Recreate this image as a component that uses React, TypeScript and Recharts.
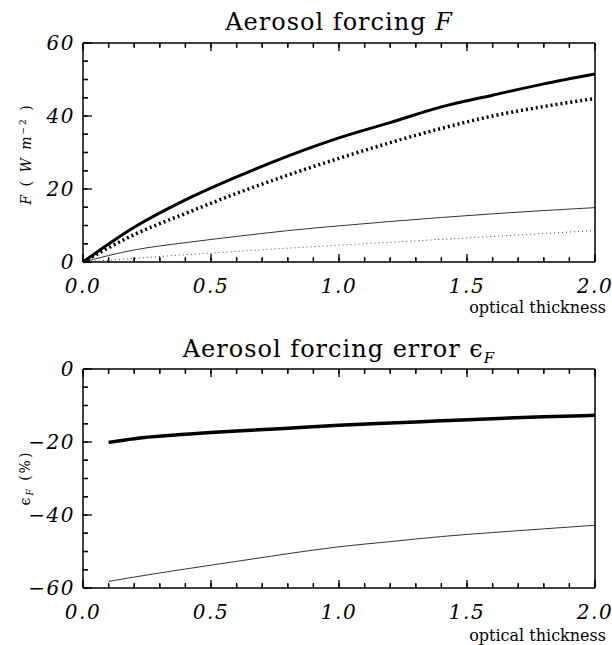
import { LineChart, Line, XAxis, YAxis } from 'recharts';

// optical thickness samples
const tau = [0, 0.2, 0.4, 0.6, 0.8, 1.0, 1.2, 1.4, 1.6, 1.8, 2.0];
const forcingThickSolid = [0, 9.5, 17.0, 23.3, 29.0, 34.0, 38.2, 42.5, 45.7, 48.8, 51.5];
const forcingThickDotted = [0, 7.5, 13.3, 18.8, 23.8, 28.4, 32.7, 36.6, 40.0, 42.6, 44.8];
const forcingThinSolid = [0, 3.3, 5.3, 7.0, 8.6, 9.9, 11.1, 12.2, 13.2, 14.1, 14.9];
const forcingThinDotted = [0, 1.0, 2.0, 2.9, 3.8, 4.6, 5.4, 6.2, 7.0, 7.8, 8.6];

const tauErr = [0.1, 0.2, 0.4, 0.6, 0.8, 1.0, 1.2, 1.4, 1.6, 1.8, 2.0];
const errThick = [-20.1, -19.1, -17.9, -17.0, -16.2, -15.4, -14.8, -14.2, -13.6, -13.1, -12.7];
const errThin = [-58.2, -57.0, -54.8, -52.7, -50.6, -48.7, -47.3, -45.9, -44.8, -43.8, -42.8];

const xTicks = [0, 0.1, 0.2, 0.3, 0.4, 0.5, 0.6, 0.7, 0.8, 0.9, 1.0, 1.1, 1.2, 1.3, 1.4, 1.5, 1.6, 1.7, 1.8, 1.9, 2.0];
const yTicksTop = [0, 5, 10, 15, 20, 25, 30, 35, 40, 45, 50, 55, 60];
const yTicksBottom = [-60, -55, -50, -45, -40, -35, -30, -25, -20, -15, -10, -5, 0];

const forcingData = tau.map((t, i) => ({
  tau: t,
  a: forcingThickSolid[i],
  b: forcingThickDotted[i],
  c: forcingThinSolid[i],
  d: forcingThinDotted[i],
}));

const errorData = tauErr.map((t, i) => ({ tau: t, a: errThick[i], c: errThin[i] }));

const frame = { stroke: '#000', strokeWidth: 1.5 };
const tickStroke = { stroke: '#000', strokeWidth: 1.3 };
const TS = -5; // inward tick length
const serif = 'DejaVu Serif';

const XTick = (props: any) => {
  const { x, y, payload, side } = props;
  const v = payload.value;
  const major = Math.abs(v * 2 - Math.round(v * 2)) < 1e-6;
  // tick position sits at the inner end of the native tick line
  const base = side === 'top' ? y + TS : y - TS;
  const dir = side === 'top' ? 1 : -1;
  return (
    <g>
      <line x1={x} y1={base} x2={x} y2={base + dir * (major ? 8 : 4)} stroke="#000" strokeWidth={1.3} />
      {side !== 'top' && major && (
        <text x={x} y={base + 31} textAnchor="middle" fill="#000" fontFamily={serif} fontStyle="italic" fontSize={20} letterSpacing={1.5}>
          {v.toFixed(1)}
        </text>
      )}
    </g>
  );
};

const YTick = (props: any) => {
  const { x, y, payload, side } = props;
  const v = payload.value;
  const major = v % 20 === 0;
  const base = side === 'right' ? x - TS : x + TS;
  const dir = side === 'right' ? -1 : 1;
  return (
    <g>
      <line x1={base} y1={y} x2={base + dir * (major ? 9 : 5)} y2={y} stroke="#000" strokeWidth={1.3} />
      {side !== 'right' && major && (
        <text x={base - 8} y={y + 7} textAnchor="end" fill="#000" fontFamily={serif} fontStyle="italic" fontSize={20} letterSpacing={1.5}>
          {v < 0 ? '\u2212' + Math.abs(v) : String(v)}
        </text>
      )}
    </g>
  );
};

const titleStyle: any = {
  position: 'absolute', left: 83, width: 512, textAlign: 'center',
  fontFamily: serif, fontSize: 24, lineHeight: '24px', letterSpacing: 1, whiteSpace: 'nowrap',
};
const xLabelStyle: any = {
  position: 'absolute', right: 6, fontFamily: serif, fontSize: 16, lineHeight: '16px', whiteSpace: 'nowrap',
};
const yLabelStyle: any = {
  position: 'absolute', left: 26, transform: 'translate(-50%, -50%) rotate(-90deg)',
  fontFamily: serif, fontSize: 14, letterSpacing: 2, whiteSpace: 'nowrap',
};

const App = () => {
  return (
    <div style={{ position: 'absolute', left: 0, top: 0 }}>
      <div style={{ position: 'relative', width: 612, height: 325 }}>
        <LineChart width={612} height={325} data={forcingData} margin={{ top: 42, right: 16, left: 82, bottom: 62 }}>
          <XAxis xAxisId="b" dataKey="tau" type="number" domain={[0, 2]} ticks={xTicks} interval={0}
            height={1} tickSize={TS} tickMargin={0} axisLine={frame} tickLine={tickStroke} tick={<XTick side="bottom" />} />
          <XAxis xAxisId="t" orientation="top" dataKey="tau" type="number" domain={[0, 2]} ticks={xTicks} interval={0}
            height={1} tickSize={TS} tickMargin={0} axisLine={frame} tickLine={tickStroke} tick={<XTick side="top" />} />
          <YAxis yAxisId="l" type="number" domain={[0, 60]} ticks={yTicksTop} interval={0}
            width={1} tickSize={TS} tickMargin={0} axisLine={frame} tickLine={tickStroke} tick={<YTick side="left" />} />
          <YAxis yAxisId="r" orientation="right" type="number" domain={[0, 60]} ticks={yTicksTop} interval={0}
            width={1} tickSize={TS} tickMargin={0} axisLine={frame} tickLine={tickStroke} tick={<YTick side="right" />} />
          <Line xAxisId="b" yAxisId="l" type="monotone" dataKey="d" stroke="#444" strokeWidth={1} strokeDasharray="1 3" dot={false} isAnimationActive={false} />
          <Line xAxisId="b" yAxisId="l" type="monotone" dataKey="c" stroke="#333" strokeWidth={1} dot={false} isAnimationActive={false} />
          <Line xAxisId="b" yAxisId="l" type="monotone" dataKey="b" stroke="#000" strokeWidth={3.5} strokeDasharray="2 3" dot={false} isAnimationActive={false} />
          <Line xAxisId="b" yAxisId="l" type="monotone" dataKey="a" stroke="#000" strokeWidth={3} dot={false} isAnimationActive={false} />
        </LineChart>
        <div style={{ ...titleStyle, top: 10 }}>
          Aerosol forcing <i>F</i>
        </div>
        <div style={{ ...xLabelStyle, top: 300 }}>optical thickness</div>
        <div style={{ ...yLabelStyle, top: 154 }}>
          <i>F</i> ( <i>W m</i><sup style={{ fontSize: 9 }}>{'\u22122'}</sup> )
        </div>
      </div>
      <div style={{ position: 'relative', width: 612, height: 320 }}>
        <LineChart width={612} height={320} data={errorData} margin={{ top: 43, right: 16, left: 82, bottom: 56 }}>
          <XAxis xAxisId="b" dataKey="tau" type="number" domain={[0, 2]} ticks={xTicks} interval={0}
            height={1} tickSize={TS} tickMargin={0} axisLine={frame} tickLine={tickStroke} tick={<XTick side="bottom" />} />
          <XAxis xAxisId="t" orientation="top" dataKey="tau" type="number" domain={[0, 2]} ticks={xTicks} interval={0}
            height={1} tickSize={TS} tickMargin={0} axisLine={frame} tickLine={tickStroke} tick={<XTick side="top" />} />
          <YAxis yAxisId="l" type="number" domain={[-60, 0]} ticks={yTicksBottom} interval={0}
            width={1} tickSize={TS} tickMargin={0} axisLine={frame} tickLine={tickStroke} tick={<YTick side="left" />} />
          <YAxis yAxisId="r" orientation="right" type="number" domain={[-60, 0]} ticks={yTicksBottom} interval={0}
            width={1} tickSize={TS} tickMargin={0} axisLine={frame} tickLine={tickStroke} tick={<YTick side="right" />} />
          <Line xAxisId="b" yAxisId="l" type="monotone" dataKey="c" stroke="#333" strokeWidth={1} dot={false} isAnimationActive={false} />
          <Line xAxisId="b" yAxisId="l" type="monotone" dataKey="a" stroke="#000" strokeWidth={3.5} dot={false} isAnimationActive={false} />
        </LineChart>
        <div style={{ ...titleStyle, top: 12 }}>
          Aerosol forcing error {'\u03F5'}<sub style={{ fontSize: 15, fontStyle: 'italic' }}>F</sub>
        </div>
        <div style={{ ...xLabelStyle, top: 303 }}>optical thickness</div>
        <div style={{ ...yLabelStyle, top: 153 }}>
          {'\u03F5'}<sub style={{ fontSize: 9, fontStyle: 'italic' }}>F</sub> (%)
        </div>
      </div>
    </div>
  );
};

export default App;
